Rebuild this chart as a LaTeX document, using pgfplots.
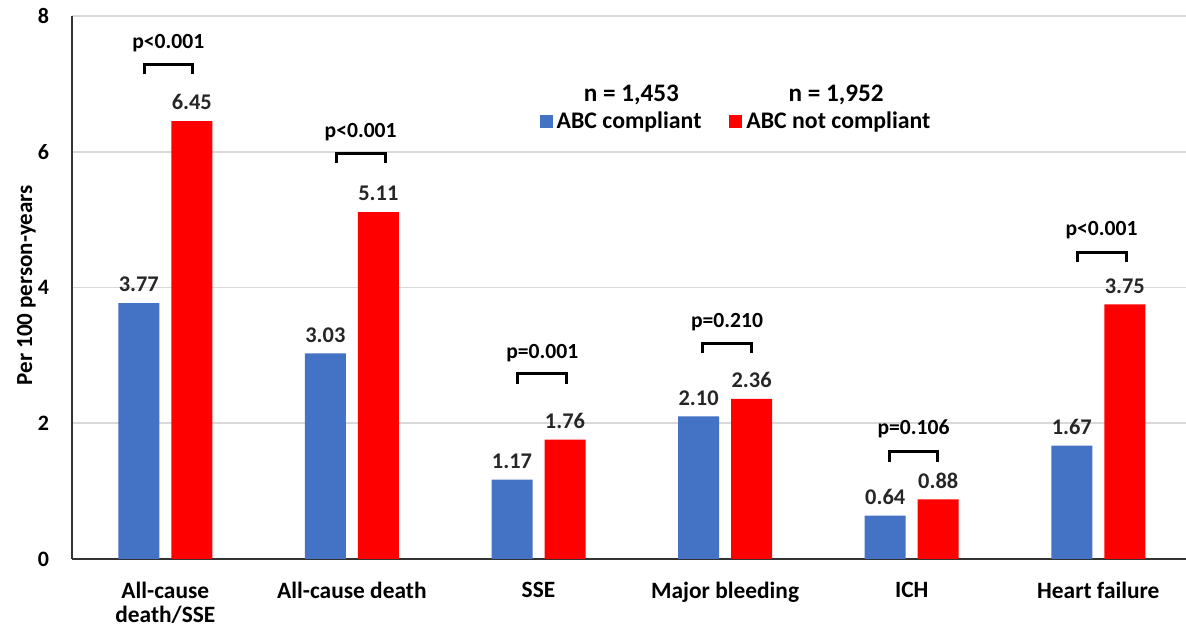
\documentclass[border=0pt]{standalone}
\usepackage{fontspec}
\setmainfont{Carlito}
\usepackage{pgfplots}
\pgfplotsset{compat=1.18}
\definecolor{cblue}{HTML}{4472C4}
\definecolor{cred}{HTML}{FF0000}
\definecolor{gridc}{HTML}{D9D9D9}
\begin{document}
\begin{tikzpicture}
\begin{axis}[
  scale only axis, width=557pt, height=271.5pt,
  xmin=-0.5, xmax=5.47, ymin=0, ymax=8,
  xtick={0,1,2,3,4,5},
  xticklabels={{All-cause\\death/SSE},{All-cause death},{SSE},{Major bleeding},{ICH},{Heart failure}},
  xticklabel style={align=center, font=\bfseries\fontsize{11.7}{12}\selectfont, anchor=north, yshift=-8pt},
  ytick={0,2,4,6,8},
  yticklabel style={font=\bfseries\fontsize{11}{13}\selectfont, xshift=-8pt},
  /pgf/number format/assume math mode=true,
  ymajorgrids, grid style={gridc, line width=0.8pt},
  axis x line*=bottom, axis y line*=left,
  axis line style={line width=1pt, black!80},
  major tick length=0pt,
  ylabel={Per 100 person-years},
  ylabel style={font=\bfseries\fontsize{11.5}{13}\selectfont, at={(axis description cs:-0.041,0.504)}, anchor=center},
  legend columns=2,
  legend style={draw=none, fill=none, at={(axis description cs:0.597,0.805)}, anchor=center,
    font=\bfseries\fontsize{11.9}{14}\selectfont, /tikz/every even column/.append style={column sep=12pt}},
  legend image code/.code={\fill[#1] (0pt,-3pt) rectangle (6.5pt,3.5pt);},
]
\addplot[ybar, bar width=20.5pt, bar shift=-13.25pt, fill=cblue, draw=none,
  nodes near coords={\pgfmathprintnumber[fixed,fixed zerofill,precision=2]{\pgfplotspointmeta}},
  nodes near coords style={font=\bfseries\fontsize{11.2}{13}\selectfont, yshift=2pt, xshift=-13.25pt, text=black!85}]
  coordinates {(0,3.77) (1,3.03) (2,1.17) (3,2.10) (4,0.64) (5,1.67)};
\addlegendentry{ABC compliant}
\addplot[ybar, bar width=20.5pt, bar shift=13.25pt, fill=cred, draw=none,
  nodes near coords={\pgfmathprintnumber[fixed,fixed zerofill,precision=2]{\pgfplotspointmeta}},
  nodes near coords style={font=\bfseries\fontsize{11.2}{13}\selectfont, yshift=2pt, xshift=13.25pt, text=black!85}]
  coordinates {(0,6.45) (1,5.11) (2,1.76) (3,2.36) (4,0.88) (5,3.75)};
\addlegendentry{ABC not compliant}

\addplot[black, line width=1.5pt, no marks, sharp plot, forget plot]
  coordinates {(-0.112,7.14) (-0.112,7.29) (0.144,7.29) (0.144,7.14)};
\addplot[black, line width=1.5pt, no marks, sharp plot, forget plot]
  coordinates {(0.919,5.84) (0.919,5.98) (1.181,5.98) (1.181,5.84)};
\addplot[black, line width=1.5pt, no marks, sharp plot, forget plot]
  coordinates {(1.888,2.58) (1.888,2.73) (2.150,2.73) (2.150,2.58)};
\addplot[black, line width=1.5pt, no marks, sharp plot, forget plot]
  coordinates {(2.878,3.03) (2.878,3.17) (3.140,3.17) (3.140,3.03)};
\addplot[black, line width=1.5pt, no marks, sharp plot, forget plot]
  coordinates {(3.880,1.43) (3.880,1.58) (4.140,1.58) (4.140,1.43)};
\addplot[black, line width=1.5pt, no marks, sharp plot, forget plot]
  coordinates {(4.889,4.38) (4.889,4.52) (5.149,4.52) (5.149,4.38)};

\node[font=\bfseries\fontsize{10.8}{12}\selectfont] at (axis cs:0.016,7.60) {p<0.001};
\node[font=\bfseries\fontsize{10.8}{12}\selectfont] at (axis cs:1.047,6.29) {p<0.001};
\node[font=\bfseries\fontsize{10.8}{12}\selectfont] at (axis cs:2.02,3.03) {p=0.001};
\node[font=\bfseries\fontsize{10.8}{12}\selectfont] at (axis cs:3.01,3.49) {p=0.210};
\node[font=\bfseries\fontsize{10.8}{12}\selectfont] at (axis cs:4.01,1.92) {p=0.106};
\node[font=\bfseries\fontsize{10.8}{12}\selectfont] at (axis cs:5.017,4.85) {p<0.001};
\node[font=\bfseries\fontsize{12.6}{14}\selectfont] at (axis cs:2.498,6.84) {n = 1,453};
\node[font=\bfseries\fontsize{12.6}{14}\selectfont] at (axis cs:3.595,6.84) {n = 1,952};
\end{axis}
\pgfresetboundingbox
\path ([shift={(-36pt,-37pt)}]current axis.south west) rectangle ([shift={(0pt,8pt)}]current axis.north east);
\end{tikzpicture}
\end{document}
